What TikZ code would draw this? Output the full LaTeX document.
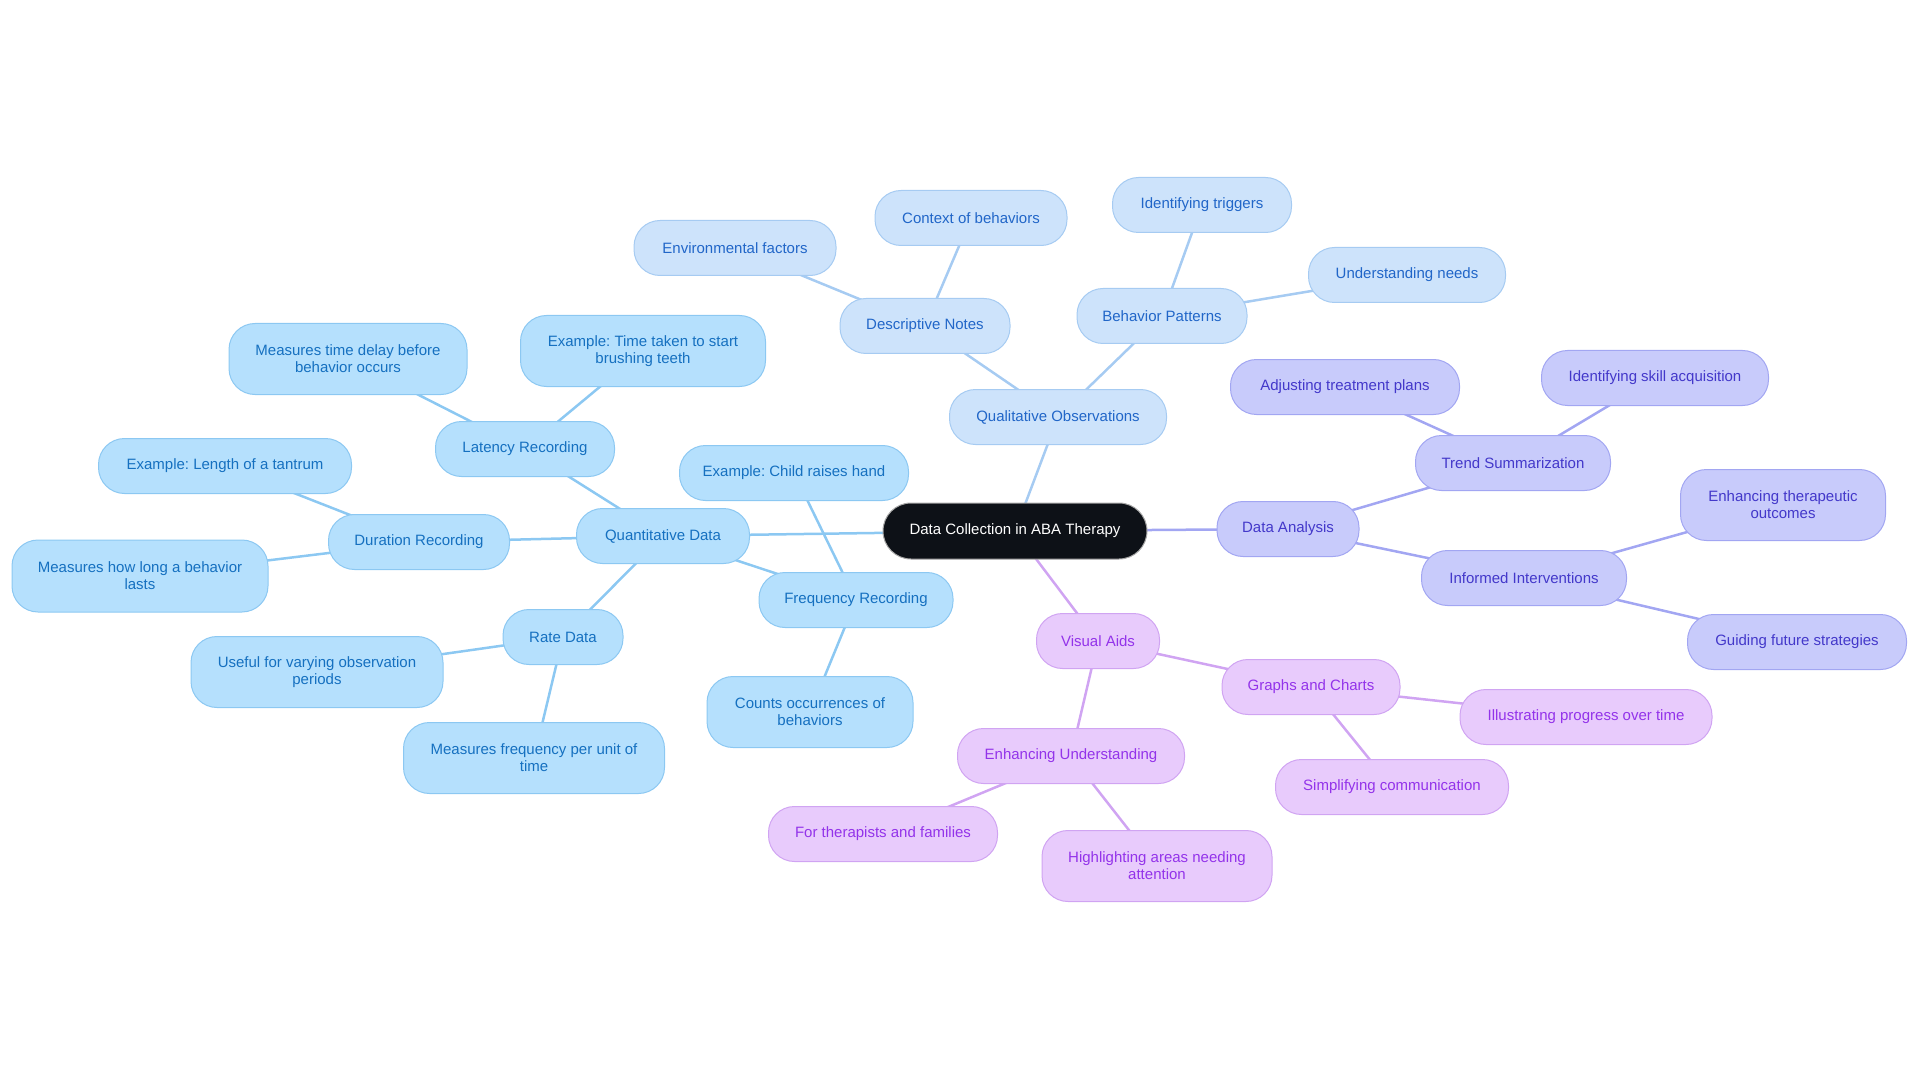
\documentclass[tikz,border=0pt]{standalone}
\usepackage{fontspec}
\setmainfont{Liberation Sans}
\usetikzlibrary{backgrounds}
\definecolor{qfill}{HTML}{B5E0FD}
\definecolor{qdraw}{HTML}{8CC8F2}
\definecolor{qtext}{HTML}{1570C0}
\definecolor{lfill}{HTML}{CDE3FB}
\definecolor{ldraw}{HTML}{A6CBF2}
\definecolor{ltext}{HTML}{2166C8}
\definecolor{afill}{HTML}{C8CBFB}
\definecolor{adraw}{HTML}{A2A6F2}
\definecolor{atext}{HTML}{4338CA}
\definecolor{vfill}{HTML}{E8CBFC}
\definecolor{vdraw}{HTML}{D0A4F2}
\definecolor{vtext}{HTML}{9333EA}
\definecolor{cfill}{HTML}{0D1117}
\tikzset{
  mm/.style={rounded corners=26pt, inner sep=0pt, align=center, line width=1pt,
    font=\fontsize{15}{17}\selectfont\frenchspacing, minimum height=55pt},
  two/.style={minimum height=71pt},
  rootnode/.style={mm, fill=cfill, draw=gray!70, text=white, rounded corners=28pt},
  quant/.style={mm, fill=qfill, draw=qdraw, text=qtext},
  qual/.style={mm, fill=lfill, draw=ldraw, text=ltext},
  ana/.style={mm, fill=afill, draw=adraw, text=atext},
  vis/.style={mm, fill=vfill, draw=vdraw, text=vtext},
  qline/.style={draw=qdraw, line width=2.5pt},
  lline/.style={draw=ldraw, line width=2.5pt},
  aline/.style={draw=adraw, line width=2.5pt},
  vline/.style={draw=vdraw, line width=2.5pt},
}
\begin{document}
\frenchspacing
\begin{tikzpicture}[x=1pt,y=-1pt]
\useasboundingbox (0,0) rectangle (1920,1083);
% root
\node[rootnode, minimum width=264pt, minimum height=56pt] (root) at (1015,531) {Data Collection in ABA Therapy};
% quantitative
\node[quant, minimum width=173pt] (qd) at (663,536) {Quantitative Data};
\node[quant, minimum width=179pt] (lat) at (525,449) {Latency Recording};
\node[quant, two, minimum width=238pt] (mtd) at (348,359) {Measures time delay before\\behavior occurs};
\node[quant, two, minimum width=245pt] (ett) at (643,351) {Example: Time taken to start\\brushing teeth};
\node[quant, minimum width=181pt] (dur) at (419,542) {Duration Recording};
\node[quant, minimum width=253pt] (elt) at (225,466) {Example: Length of a tantrum};
\node[quant, two, minimum width=256pt, minimum height=72pt] (mhl) at (140,576) {Measures how long a behavior\\lasts};
\node[quant, minimum width=120pt] (rate) at (563,637) {Rate Data};
\node[quant, two, minimum width=252pt] (use) at (317,672) {Useful for varying observation\\periods};
\node[quant, two, minimum width=261pt] (mfu) at (534,758) {Measures frequency per unit of\\time};
\node[quant, minimum width=194pt] (freq) at (856,600) {Frequency Recording};
\node[quant, minimum width=229pt] (ech) at (794,473) {Example: Child raises hand};
\node[quant, two, minimum width=206pt] (cnt) at (810,712) {Counts occurrences of\\behaviors};
% qualitative
\node[qual, minimum width=217pt] (qo) at (1058,417) {Qualitative Observations};
\node[qual, minimum width=170pt] (dn) at (925,326) {Descriptive Notes};
\node[qual, minimum width=202pt] (env) at (735,248) {Environmental factors};
\node[qual, minimum width=192pt] (ctx) at (971,218) {Context of behaviors};
\node[qual, minimum width=170pt] (bp) at (1162,316) {Behavior Patterns};
\node[qual, minimum width=179pt] (it) at (1202,205) {Identifying triggers};
\node[qual, minimum width=197pt] (un) at (1407,275) {Understanding needs};
% analysis
\node[ana, minimum width=142pt] (da) at (1288,529) {Data Analysis};
\node[ana, minimum width=195pt] (ts) at (1513,463) {Trend Summarization};
\node[ana, minimum width=229pt] (adj) at (1345,387) {Adjusting treatment plans};
\node[ana, minimum width=227pt] (isa) at (1655,378) {Identifying skill acquisition};
\node[ana, minimum width=205pt] (ii) at (1524,578) {Informed Interventions};
\node[ana, two, minimum width=205pt] (eto) at (1783,505) {Enhancing therapeutic\\outcomes};
\node[ana, minimum width=219pt] (gfs) at (1797,642) {Guiding future strategies};
% visual
\node[vis, minimum width=123pt] (va) at (1098,641) {Visual Aids};
\node[vis, minimum width=178pt] (gc) at (1311,687) {Graphs and Charts};
\node[vis, minimum width=252pt] (ipo) at (1586,717) {Illustrating progress over time};
\node[vis, minimum width=233pt] (sc) at (1392,787) {Simplifying communication};
\node[vis, minimum width=227pt] (eu) at (1071,756) {Enhancing Understanding};
\node[vis, minimum width=229pt] (ftf) at (883,834) {For therapists and families};
\node[vis, two, minimum width=230pt] (hla) at (1157,866) {Highlighting areas needing\\attention};
% edges
\begin{pgfonlayer}{background}
\draw[qline] (root.center) -- (qd.center);
\draw[lline] (root.center) -- (qo.center);
\draw[aline] (root.center) -- (da.center);
\draw[vline] (root.center) -- (va.center);
\draw[qline] (qd.center) -- (lat.center);
\draw[qline] (lat.center) -- (mtd.center);
\draw[qline] (lat.center) -- (ett.center);
\draw[qline] (qd.center) -- (dur.center);
\draw[qline] (dur.center) -- (elt.center);
\draw[qline] (dur.center) -- (mhl.center);
\draw[qline] (qd.center) -- (rate.center);
\draw[qline] (rate.center) -- (use.center);
\draw[qline] (rate.center) -- (mfu.center);
\draw[qline] (qd.center) -- (freq.center);
\draw[qline] (freq.center) -- (ech.center);
\draw[qline] (freq.center) -- (cnt.center);
\draw[lline] (qo.center) -- (dn.center);
\draw[lline] (dn.center) -- (env.center);
\draw[lline] (dn.center) -- (ctx.center);
\draw[lline] (qo.center) -- (bp.center);
\draw[lline] (bp.center) -- (it.center);
\draw[lline] (bp.center) -- (un.center);
\draw[aline] (da.center) -- (ts.center);
\draw[aline] (ts.center) -- (adj.center);
\draw[aline] (ts.center) -- (isa.center);
\draw[aline] (da.center) -- (ii.center);
\draw[aline] (ii.center) -- (eto.center);
\draw[aline] (ii.center) -- (gfs.center);
\draw[vline] (va.center) -- (gc.center);
\draw[vline] (gc.center) -- (ipo.center);
\draw[vline] (gc.center) -- (sc.center);
\draw[vline] (va.center) -- (eu.center);
\draw[vline] (eu.center) -- (ftf.center);
\draw[vline] (eu.center) -- (hla.center);
\end{pgfonlayer}
\end{tikzpicture}
\end{document}
